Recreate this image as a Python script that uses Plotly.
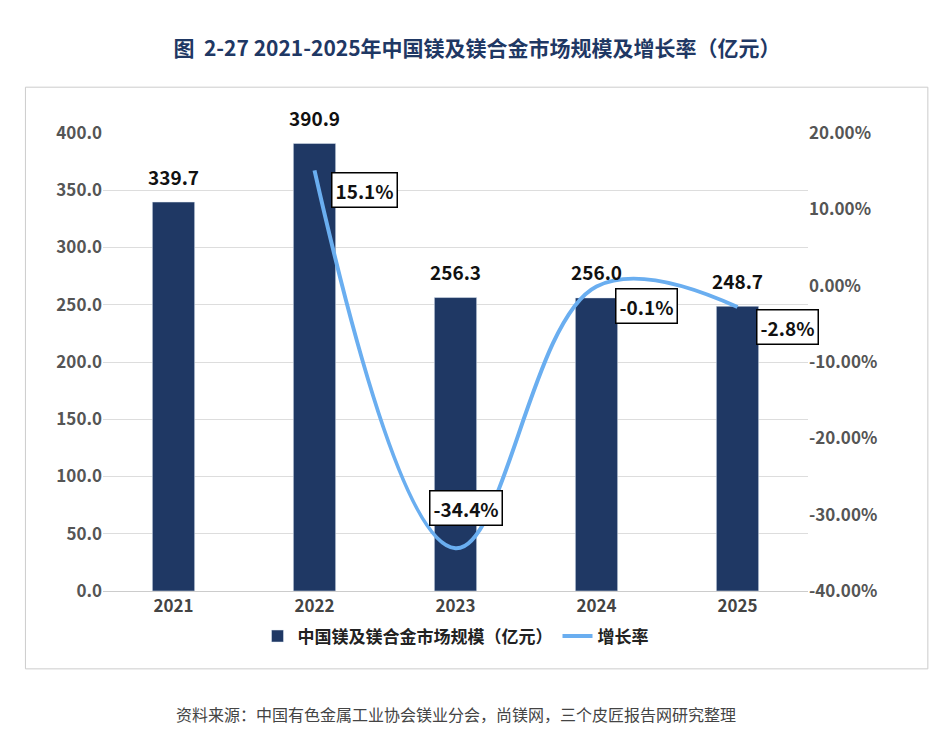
import plotly.graph_objects as go

anos = ["2021", "2022", "2023", "2024", "2025"]
mercado = [339.7, 390.9, 256.3, 256.0, 248.7]
anos_taxa = ["2022", "2023", "2024", "2025"]
taxa = [15.1, -34.4, -0.1, -2.8]

azul = "#1f3864"
fig = go.Figure()
fig.add_trace(go.Bar(x=anos, y=mercado, name="<b>中国镁及镁合金市场规模（亿元）</b>", marker_color=azul))
fig.add_trace(go.Scatter(x=anos_taxa, y=taxa, name="<b>增长率</b>", mode="lines", yaxis="y2",
                         line=dict(color="#6aaef0", width=4, shape="spline", smoothing=1.1)))

# valores das barras
for i, v in enumerate(mercado):
    fig.add_annotation(x=i, y=v, xref="x", yref="y", text=f"<b>{v:.1f}</b>", showarrow=False,
                       yshift=26, font=dict(size=19, color="#111"))

# rótulos da taxa de crescimento
for a, t in zip(anos_taxa, taxa):
    fig.add_annotation(x=anos.index(a), y=t, xref="x", yref="y2", text=f"<b>{t:.1f}%</b>", showarrow=False,
                       xshift=50 if a != "2023" else 10, yshift=-20 if a != "2023" else 40,
                       bordercolor="#000", borderwidth=1.5, bgcolor="white", borderpad=3,
                       font=dict(size=19, color="#111"))

fig.update_layout(
    width=938, height=733, plot_bgcolor="white", paper_bgcolor="white",
    font=dict(family="Noto Sans CJK SC", color="#555"),
    margin=dict(l=95, r=138, t=125, b=150),
    title=dict(text="<b>图  2-27 2021-2025年中国镁及镁合金市场规模及增长率（亿元）</b>", x=0.5, y=0.955,
               font=dict(size=21, color="#1f3864")),
    xaxis=dict(type="category", range=[-0.5, 4.5], tickfont=dict(size=17, color="#444"),
               showline=True, linecolor="#ccc", tickprefix="<b>", ticksuffix="</b>"),
    yaxis=dict(range=[0, 400], dtick=50, tickformat=".1f", gridcolor="#ddd",
               tickprefix="<b>", ticksuffix="</b>", tickfont=dict(size=17, color="#555")),
    yaxis2=dict(range=[-40, 20], overlaying="y", side="right", showgrid=False, anchor="x",
                tickvals=[-40, -30, -20, -10, 0, 10, 20],
                ticktext=["<b>-40.00%</b>", "<b>-30.00%</b>", "<b>-20.00%</b>", "<b>-10.00%</b>",
                          "<b>0.00%</b>", "<b>10.00%</b>", "<b>20.00%</b>"],
                tickfont=dict(size=17, color="#555")),
    legend=dict(orientation="h", x=0.5, xanchor="center", y=-0.06, font=dict(size=17, color="#222")),
    bargap=0.7,
)
fig.add_shape(type="rect", xref="paper", yref="paper", x0=-0.11, x1=1.17, y0=-0.17, y1=1.1,
              line=dict(color="#ccc", width=1))
fig.add_annotation(xref="paper", yref="paper", x=0.5, y=-0.3, showarrow=False,
                   text="资料来源：中国有色金属工业协会镁业分会，尚镁网，三个皮匠报告网研究整理",
                   font=dict(size=16, color="#444"))
fig.write_html("out.html")
